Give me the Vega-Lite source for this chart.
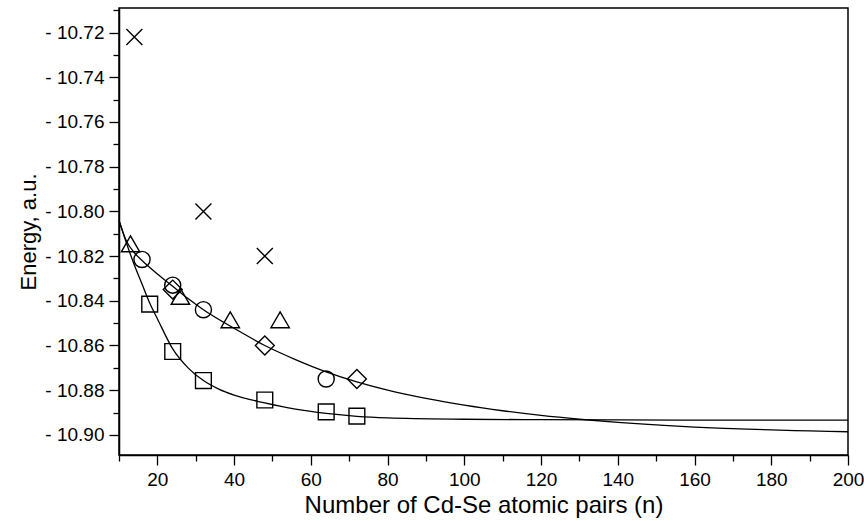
{
  "$schema": "https://vega.github.io/schema/vega-lite/v6.json",
  "width": 729,
  "height": 447,
  "autosize": {"type": "none"},
  "padding": {"left": 119, "top": 8, "right": 16, "bottom": 66},
  "background": "white",
  "config": {
    "view": {"stroke": "black", "strokeWidth": 1.5},
    "font": "Liberation Sans",
    "point": {"filled": false, "stroke": "black", "strokeWidth": 1.4, "opacity": 1},
    "axis": {
      "grid": false,
      "domainColor": "black",
      "domainWidth": 1.5,
      "tickColor": "black",
      "tickWidth": 1.3,
      "labelColor": "black",
      "labelFont": "Liberation Sans",
      "titleColor": "black",
      "titleFont": "Liberation Sans",
      "titleFontWeight": "normal",
      "labelOverlap": false,
      "labelBound": false,
      "labelFlush": false
    }
  },
  "datasets": {
    "curves": [
      {"fit": "upper", "n": 10, "energy": -10.804},
      {"fit": "upper", "n": 12, "energy": -10.8135},
      {"fit": "upper", "n": 14, "energy": -10.8185},
      {"fit": "upper", "n": 16, "energy": -10.822},
      {"fit": "upper", "n": 20, "energy": -10.828},
      {"fit": "upper", "n": 24, "energy": -10.8335},
      {"fit": "upper", "n": 28, "energy": -10.839},
      {"fit": "upper", "n": 32, "energy": -10.844},
      {"fit": "upper", "n": 40, "energy": -10.8523},
      {"fit": "upper", "n": 48, "energy": -10.8600},
      {"fit": "upper", "n": 56, "energy": -10.8663},
      {"fit": "upper", "n": 64, "energy": -10.8718},
      {"fit": "upper", "n": 72, "energy": -10.8763},
      {"fit": "upper", "n": 80, "energy": -10.8800},
      {"fit": "upper", "n": 90, "energy": -10.8837},
      {"fit": "upper", "n": 100, "energy": -10.8867},
      {"fit": "upper", "n": 110, "energy": -10.8892},
      {"fit": "upper", "n": 120, "energy": -10.8913},
      {"fit": "upper", "n": 130, "energy": -10.8930},
      {"fit": "upper", "n": 140, "energy": -10.8944},
      {"fit": "upper", "n": 150, "energy": -10.8955},
      {"fit": "upper", "n": 160, "energy": -10.8965},
      {"fit": "upper", "n": 170, "energy": -10.8972},
      {"fit": "upper", "n": 180, "energy": -10.8978},
      {"fit": "upper", "n": 190, "energy": -10.8982},
      {"fit": "upper", "n": 200, "energy": -10.8986},
      {"fit": "lower", "n": 10, "energy": -10.804},
      {"fit": "lower", "n": 12, "energy": -10.8145},
      {"fit": "lower", "n": 14, "energy": -10.824},
      {"fit": "lower", "n": 16, "energy": -10.8325},
      {"fit": "lower", "n": 18, "energy": -10.8410},
      {"fit": "lower", "n": 20, "energy": -10.8480},
      {"fit": "lower", "n": 24, "energy": -10.8615},
      {"fit": "lower", "n": 28, "energy": -10.8700},
      {"fit": "lower", "n": 32, "energy": -10.8757},
      {"fit": "lower", "n": 36, "energy": -10.8795},
      {"fit": "lower", "n": 40, "energy": -10.8822},
      {"fit": "lower", "n": 48, "energy": -10.8857},
      {"fit": "lower", "n": 56, "energy": -10.8885},
      {"fit": "lower", "n": 64, "energy": -10.8904},
      {"fit": "lower", "n": 72, "energy": -10.8917},
      {"fit": "lower", "n": 80, "energy": -10.8924},
      {"fit": "lower", "n": 100, "energy": -10.8930},
      {"fit": "lower", "n": 120, "energy": -10.8932},
      {"fit": "lower", "n": 140, "energy": -10.8933},
      {"fit": "lower", "n": 170, "energy": -10.8934},
      {"fit": "lower", "n": 200, "energy": -10.8934}
    ],
    "points": [
      {"series": "cross", "n": 14, "energy": -10.722},
      {"series": "cross", "n": 32, "energy": -10.800},
      {"series": "cross", "n": 48, "energy": -10.820},
      {"series": "triangle", "n": 13, "energy": -10.8145},
      {"series": "triangle", "n": 26, "energy": -10.838},
      {"series": "triangle", "n": 39, "energy": -10.8485},
      {"series": "triangle", "n": 52, "energy": -10.8485},
      {"series": "circle", "n": 16, "energy": -10.8215},
      {"series": "circle", "n": 24, "energy": -10.833},
      {"series": "circle", "n": 32, "energy": -10.844},
      {"series": "circle", "n": 64, "energy": -10.875},
      {"series": "diamond", "n": 24, "energy": -10.835},
      {"series": "diamond", "n": 48, "energy": -10.860},
      {"series": "diamond", "n": 72, "energy": -10.875},
      {"series": "square", "n": 18, "energy": -10.8415},
      {"series": "square", "n": 24, "energy": -10.8627},
      {"series": "square", "n": 32, "energy": -10.8757},
      {"series": "square", "n": 48, "energy": -10.8844},
      {"series": "square", "n": 64, "energy": -10.8897},
      {"series": "square", "n": 72, "energy": -10.8916}
    ]
  },
  "encoding": {
    "x": {
      "field": "n",
      "type": "quantitative",
      "scale": {"domain": [10, 200], "nice": false, "zero": false},
      "axis": {
        "title": "Number of Cd-Se atomic pairs (n)",
        "titleFontSize": 24,
        "titlePadding": 4,
        "labelFontSize": 19,
        "labelPadding": 5,
        "values": [10, 20, 30, 40, 50, 60, 70, 80, 90, 100, 110, 120, 130, 140, 150, 160, 170, 180, 190, 200],
        "tickSize": {"condition": {"test": "datum.value % 20 == 0", "value": 10}, "value": 6},
        "labelExpr": "datum.value % 20 == 0 ? datum.label : ''"
      }
    },
    "y": {
      "field": "energy",
      "type": "quantitative",
      "scale": {"domain": [-10.909, -10.709], "nice": false, "zero": false},
      "axis": {
        "title": "Energy, a.u.",
        "titleFontSize": 22,
        "titlePadding": 4,
        "labelFontSize": 19,
        "labelPadding": 5,
        "values": [-10.9, -10.89, -10.88, -10.87, -10.86, -10.85, -10.84, -10.83, -10.82, -10.81, -10.8, -10.79, -10.78, -10.77, -10.76, -10.75, -10.74, -10.73, -10.72, -10.71],
        "tickSize": {"condition": {"test": "abs(round(datum.value * 100)) % 2 == 0", "value": 10}, "value": 6},
        "labelExpr": "abs(round(datum.value * 100)) % 2 == 0 ? '- ' + format(abs(datum.value), '.2f') : ''"
      }
    }
  },
  "layer": [
    {
      "data": {"name": "curves"},
      "mark": {"type": "line", "interpolate": "monotone", "color": "black", "strokeWidth": 1.3},
      "encoding": {"detail": {"field": "fit"}}
    },
    {
      "data": {"name": "points"},
      "transform": [{"filter": "datum.series == 'cross'"}],
      "mark": {"type": "point", "shape": "M-1,-1L1,1M-1,1L1,-1", "size": 256}
    },
    {
      "data": {"name": "points"},
      "transform": [{"filter": "datum.series == 'triangle'"}],
      "mark": {"type": "point", "shape": "triangle-up", "size": 340}
    },
    {
      "data": {"name": "points"},
      "transform": [{"filter": "datum.series == 'circle'"}],
      "mark": {"type": "point", "shape": "circle", "size": 260}
    },
    {
      "data": {"name": "points"},
      "transform": [{"filter": "datum.series == 'diamond'"}],
      "mark": {"type": "point", "shape": "diamond", "size": 360}
    },
    {
      "data": {"name": "points"},
      "transform": [{"filter": "datum.series == 'square'"}],
      "mark": {"type": "point", "shape": "square", "size": 250}
    }
  ]
}
